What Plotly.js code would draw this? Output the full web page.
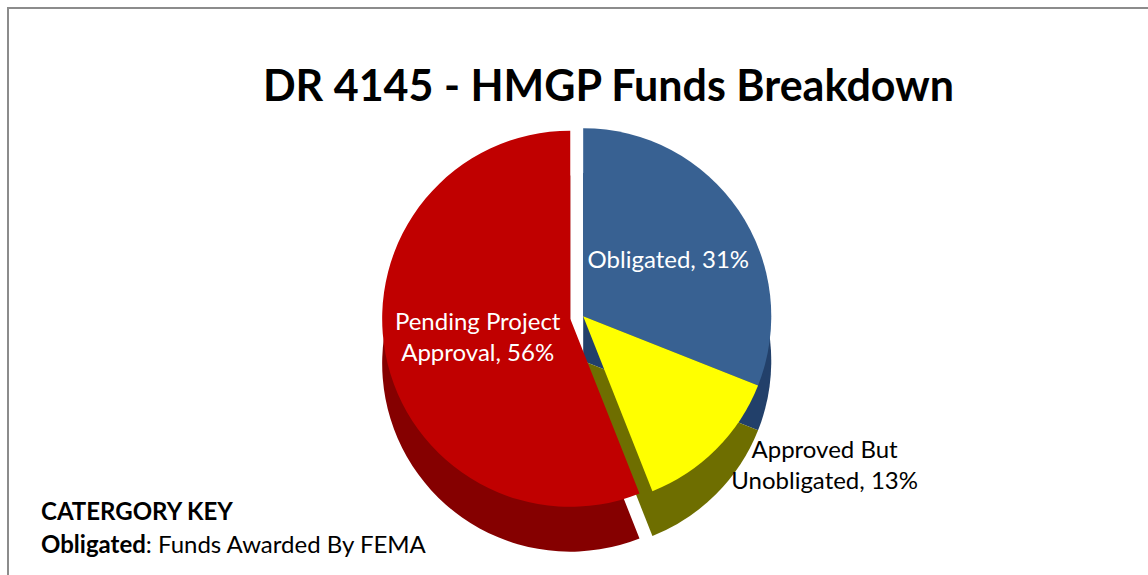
<!DOCTYPE html>
<html>
<head>
<meta charset="utf-8">
<script src="https://cdn.plot.ly/plotly-3.0.1.min.js"></script>
<style>
  html, body { margin: 0; padding: 0; background: #ffffff; }
  #frame { position: absolute; left: 0; top: 0; width: 1148px; height: 575px; overflow: hidden; }
  #border { position: absolute; left: 7px; top: 7px; width: 1200px; height: 600px;
            border-left: 2px solid #8c8c8c; border-top: 2px solid #8c8c8c; pointer-events: none; }
  #chart { position: absolute; left: 0; top: 0; width: 1148px; height: 575px; }
</style>
</head>
<body>
<div id="frame">
  <div id="chart"></div>
  <div id="border"></div>
</div>
<script>
// ---- data ----
const categories = ['Obligated', 'Approved But Unobligated', 'Pending Project Approval'];
const labelText = ['Obligated', 'Approved But<br>Unobligated', 'Pending Project<br>Approval'];
const shares = [31, 13, 56];
const pulls = [0, 0, 0.07];
const topColors = ['#386192', '#ffff00', '#c00000'];
const sideColors = ['#22406a', '#6e6e00', '#850000'];
const textPositions = ['inside', 'outside', 'inside'];

const FONT = 'Lato, "Open Sans", sans-serif';

const depthTrace = {
  type: 'pie',
  labels: categories,
  values: shares,
  sort: false,
  direction: 'clockwise',
  rotation: 0,
  pull: pulls,
  marker: { colors: sideColors, line: { width: 0 } },
  textinfo: 'none',
  hoverinfo: 'skip',
  showlegend: false,
  domain: { x: [0.208, 0.808], y: [0.022, 0.722] }
};

const faceTrace = {
  type: 'pie',
  labels: categories,
  values: shares,
  text: labelText,
  sort: false,
  direction: 'clockwise',
  rotation: 0,
  pull: pulls,
  marker: { colors: topColors, line: { width: 0 } },
  texttemplate: '%{text}, %{percent:.0%}',
  textposition: textPositions,
  insidetextorientation: 'horizontal',
  insidetextfont: { family: FONT, size: 24, color: '#ffffff' },
  outsidetextfont: { family: FONT, size: 24, color: '#000000' },
  hovertemplate: '%{label}: %{percent:.0%}<extra></extra>',
  showlegend: false,
  domain: { x: [0.208, 0.808], y: [0.1, 0.8] }
};

const layout = {
  width: 1148,
  height: 575,
  margin: { l: 0, r: 0, t: 0, b: 0 },
  paper_bgcolor: '#ffffff',
  showlegend: false,
  title: {
    text: '<b>DR 4145 - HMGP Funds Breakdown</b>',
    font: { family: FONT, size: 43, color: '#000000' },
    x: 0.530, xanchor: 'center',
    y: 0.851, yanchor: 'middle'
  },
  annotations: [
    { text: '<b>CATERGORY KEY</b>', xref: 'paper', yref: 'paper',
      x: 0.034, y: 0.113, xanchor: 'left', yanchor: 'middle', showarrow: false,
      font: { family: FONT, size: 24, color: '#000000' } },
    { text: '<b>Obligated</b>: Funds Awarded By FEMA', xref: 'paper', yref: 'paper',
      x: 0.034, y: 0.054, xanchor: 'left', yanchor: 'middle', showarrow: false,
      font: { family: FONT, size: 24, color: '#000000' } }
  ]
};

Plotly.newPlot('chart', [depthTrace, faceTrace], layout, { displayModeBar: false, staticPlot: true });
</script>
</body>
</html>
